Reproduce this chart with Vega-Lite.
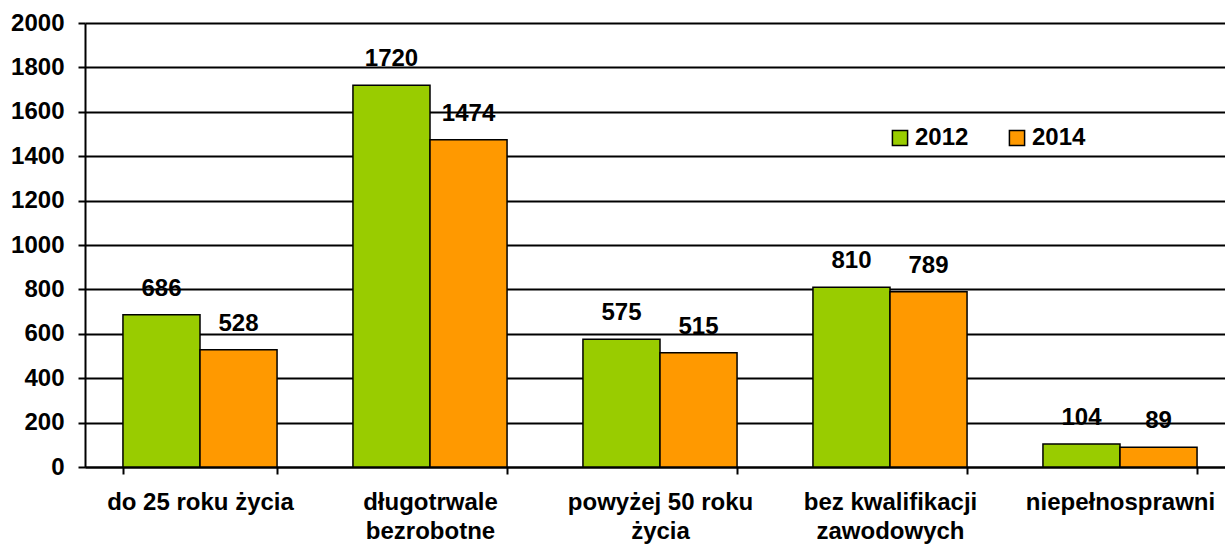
{
  "$schema": "https://vega.github.io/schema/vega-lite/v6.json",
  "autosize": {"type": "none"},
  "width": 1140,
  "height": 444,
  "padding": {"left": 85, "top": 23, "right": 0, "bottom": 77},
  "background": "white",
  "config": {
    "font": "Liberation Sans",
    "view": {"stroke": null},
    "axis": {"labelFont": "Liberation Sans", "labelFontWeight": "bold", "labelColor": "black", "domainColor": "black", "tickColor": "black", "gridColor": "black"}
  },
  "data": {
    "values": [
      {"category": "do 25 roku życia", "year": "2012", "value": 686},
      {"category": "do 25 roku życia", "year": "2014", "value": 528},
      {"category": "długotrwale|bezrobotne", "year": "2012", "value": 1720},
      {"category": "długotrwale|bezrobotne", "year": "2014", "value": 1474},
      {"category": "powyżej 50 roku|życia", "year": "2012", "value": 575},
      {"category": "powyżej 50 roku|życia", "year": "2014", "value": 515},
      {"category": "bez kwalifikacji|zawodowych", "year": "2012", "value": 810},
      {"category": "bez kwalifikacji|zawodowych", "year": "2014", "value": 789},
      {"category": "niepełnosprawni", "year": "2012", "value": 104},
      {"category": "niepełnosprawni", "year": "2014", "value": 89}
    ]
  },
  "encoding": {
    "x": {
      "field": "category", "type": "nominal", "sort": null,
      "scale": {"range": [0, 1150], "paddingInner": 0.33, "paddingOuter": 0.165},
      "axis": {
        "title": null, "labelAngle": 0, "labelFontSize": 24, "labelPadding": 16,
        "labelLineHeight": 29, "labelExpr": "split(datum.label, '|')", "labelLimit": 400,
        "labelOverlap": false,
        "tickBand": "extent", "tickSize": 7, "tickWidth": 2, "domainWidth": 2,
        "labelBaseline": "top"
      }
    },
    "xOffset": {"field": "year", "type": "nominal", "sort": ["2012", "2014"], "scale": {"paddingInner": 0, "paddingOuter": 0}},
    "y": {
      "field": "value", "type": "quantitative",
      "scale": {"domain": [0, 2000], "nice": false},
      "axis": {
        "title": null, "values": [0,200,400,600,800,1000,1200,1400,1600,1800,2000],
        "format": "d", "labelFontSize": 24, "labelPadding": 14, "tickSize": 7, "tickWidth": 2,
        "domainWidth": 2, "gridWidth": 2, "grid": true
      }
    }
  },
  "layer": [
    {
      "mark": {"type": "bar", "stroke": "black", "strokeWidth": 1.5},
      "encoding": {
        "color": {
          "field": "year", "type": "nominal",
          "scale": {"domain": ["2012", "2014"], "range": ["#99CC00", "#FF9900"]},
          "legend": {
            "title": null, "orient": "none", "legendX": 803, "legendY": 103,
            "direction": "horizontal", "symbolType": "square", "symbolSize": 230,
            "symbolStrokeColor": "black", "symbolStrokeWidth": 1.5, "symbolOpacity": 1,
            "labelFontSize": 24, "labelFontWeight": "bold", "labelColor": "black",
            "labelFont": "Liberation Sans", "columnPadding": 36, "labelOffset": 3
          }
        }
      }
    },
    {
      "mark": {"type": "text", "fontSize": 24, "fontWeight": "bold", "baseline": "alphabetic", "dy": -19, "color": "black"},
      "encoding": {"text": {"field": "value", "type": "quantitative", "format": "d"}}
    }
  ]
}
